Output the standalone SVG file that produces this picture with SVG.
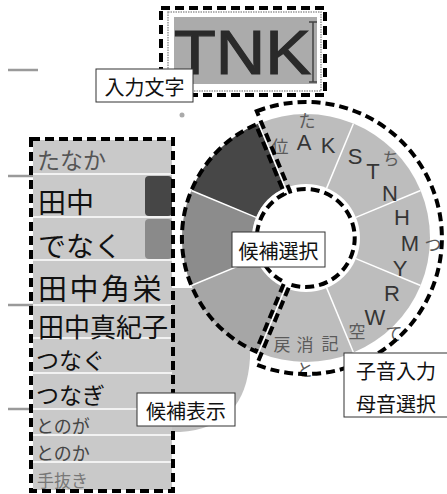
<svg xmlns="http://www.w3.org/2000/svg" width="447" height="494" viewBox="0 0 447 494">
<style>
.dash{fill:none;stroke:#000;stroke-width:4;stroke-dasharray:9 5}
.lbl{fill:#fff;stroke:#333;stroke-width:1}
.jp{font-family:"Noto Sans CJK JP","Noto Sans",sans-serif}
.lt{font-family:"Liberation Sans",Arial,sans-serif}
.lt20{font-family:"Liberation Sans",Arial,sans-serif;font-size:22px;fill:#353535;text-anchor:middle;dominant-baseline:central}
.kj{font-family:"Noto Sans CJK JP",sans-serif;font-size:17px;fill:#5a5a5a;text-anchor:middle;dominant-baseline:central}
.row{fill:#c9c9c9}
.sep{stroke:#fff;stroke-width:1.5}
.tick{stroke:#9a9a9a;stroke-width:2.5}
.lbltext{font-family:"Noto Sans CJK JP",sans-serif;font-size:20px;fill:#111;text-anchor:middle;dominant-baseline:central}
</style>
<rect width="447" height="494" fill="#fff"/>

<g id="ticks">
<line class="tick" x1="8" y1="70" x2="38" y2="70"/>
<line class="tick" x1="8" y1="176" x2="38" y2="176"/>
<line class="tick" x1="8" y1="305" x2="38" y2="305"/>
<line class="tick" x1="8" y1="409" x2="38" y2="409"/>
</g>

<g id="blob">
<path d="M120 288 L200 288 Q252 300 250 358 Q246 428 180 432 L120 432 Z" fill="#c2c2c2"/>
</g>

<g id="input-box">
<rect x="168" y="12" width="153" height="79" fill="#fff" stroke="#999" stroke-width="1.5" stroke-dasharray="1.5 1"/>
<rect x="174" y="17" width="143" height="67" fill="#ababab"/>
<text class="lt" x="174" y="74" font-size="63" fill="#2a2a2a" stroke="#2a2a2a" stroke-width="1.2" textLength="137" lengthAdjust="spacingAndGlyphs">TNK</text>
<path d="M309 22 H317 M313 22 V82 M309 82 H317" stroke="#444" stroke-width="1.5" fill="none"/>
<rect class="dash" x="161" y="8" width="164" height="87"/>
</g>

<g id="candidate-list">
<rect class="row" x="33" y="140" width="139" height="34" fill="#d0d0d0"/>
<rect class="row" x="33" y="174" width="139" height="43"/>
<rect class="row" x="33" y="217" width="139" height="43"/>
<rect class="row" x="33" y="260" width="139" height="45"/>
<rect class="row" x="33" y="305" width="139" height="33"/>
<rect class="row" x="33" y="338" width="139" height="35"/>
<rect class="row" x="33" y="373" width="139" height="36"/>
<rect class="row" x="33" y="409" width="139" height="26"/>
<rect class="row" x="33" y="435" width="139" height="27"/>
<rect class="row" x="33" y="462" width="139" height="28"/>
<line class="sep" x1="33" y1="174" x2="172" y2="174"/>
<line class="sep" x1="33" y1="217" x2="172" y2="217"/>
<line class="sep" x1="33" y1="260" x2="172" y2="260"/>
<line class="sep" x1="33" y1="305" x2="172" y2="305"/>
<line class="sep" x1="33" y1="338" x2="172" y2="338"/>
<line class="sep" x1="33" y1="373" x2="172" y2="373"/>
<line class="sep" x1="33" y1="409" x2="172" y2="409"/>
<line class="sep" x1="33" y1="435" x2="172" y2="435"/>
<line class="sep" x1="33" y1="462" x2="172" y2="462"/>
<rect x="145" y="176" width="27" height="40" rx="4" fill="#464646"/>
<rect x="145" y="219" width="27" height="40" rx="4" fill="#8a8a8a"/>
<g class="jp" dominant-baseline="central">
<text x="37" y="159" font-size="23" fill="#555">たなか</text>
<text x="38" y="201" font-size="28" fill="#111">田中</text>
<text x="38" y="245" font-size="28" fill="#111">でなく</text>
<text x="38" y="287" font-size="29" fill="#111" letter-spacing="2.5">田中角栄</text>
<text x="38" y="325" font-size="26" fill="#111">田中真紀子</text>
<text x="36" y="359" font-size="23" fill="#111">つなぐ</text>
<text x="36" y="394" font-size="23" fill="#111">つなぎ</text>
<text x="36" y="425" font-size="18" fill="#444">とのが</text>
<text x="36" y="452" font-size="18" fill="#444">とのか</text>
<text x="37" y="479" font-size="17" fill="#777">手抜き</text>
</g>
<rect class="dash" x="31" y="139" width="142" height="352"/>
</g>

<g id="wheel">
<circle cx="306" cy="238" r="124" fill="#bdbdbd"/>
<path d="M191.44 190.55 A124 124 0 0 1 258.55 123.44 L285.34 188.11 A54 54 0 0 0 256.11 217.34 Z" fill="#474747"/>
<path d="M191.44 285.45 A124 124 0 0 1 191.44 190.55 L256.11 217.34 A54 54 0 0 0 256.11 258.66 Z" fill="#8c8c8c"/>
<path d="M258.55 352.56 A124 124 0 0 1 191.44 285.45 L256.11 258.66 A54 54 0 0 0 285.34 287.89 Z" fill="#a6a6a6"/>
<circle cx="306" cy="238" r="54" fill="#fff"/>
<g stroke="#fff" stroke-width="1.5">
<line x1="355.89" y1="258.66" x2="420.56" y2="285.45"/>
<line x1="326.66" y1="287.89" x2="353.45" y2="352.56"/>
<line x1="285.34" y1="287.89" x2="258.55" y2="352.56"/>
<line x1="256.11" y1="258.66" x2="191.44" y2="285.45"/>
<line x1="256.11" y1="217.34" x2="191.44" y2="190.55"/>
<line x1="285.34" y1="188.11" x2="258.55" y2="123.44"/>
<line x1="326.66" y1="188.11" x2="353.45" y2="123.44"/>
<line x1="355.89" y1="217.34" x2="420.56" y2="190.55"/>
</g>
<text class="kj" x="307" y="119">た</text>
<text class="kj" x="280" y="145">位</text>
<text class="lt20" x="304" y="142">A</text>
<text class="lt20" x="328" y="145">K</text>
<text class="lt20" x="355" y="156">S</text>
<text class="kj" x="391" y="157">ち</text>
<text class="lt20" x="373" y="171">T</text>
<text class="lt20" x="390" y="193">N</text>
<text class="lt20" x="402" y="217">H</text>
<text class="lt20" x="410" y="243">M</text>
<text class="kj" x="433" y="243">つ</text>
<text class="lt20" x="400" y="268">Y</text>
<text class="lt20" x="392" y="293">R</text>
<text class="lt20" x="375" y="317">W</text>
<text class="kj" x="394" y="332">て</text>
<text class="kj" x="357" y="330">空</text>
<text class="kj" x="330" y="342">記</text>
<text class="kj" x="305" y="343">消</text>
<text class="kj" x="282" y="343">戻</text>
<text class="kj" x="305" y="368" font-size="15">と</text>
</g>

<g id="connectors">
<path class="dash" d="M255.78 124.59 A124 124 0 0 0 255.78 351.41 L284.48 282.12 A49 49 0 0 1 284.48 193.88 Z"/>
<path class="dash" d="M256.72 111.2 A136 136 0 1 1 256.72 364.8 L290.02 284.42 A49 49 0 1 0 290.02 191.58 Z"/>
<circle cx="182" cy="115" r="2.5" fill="#aaa"/>
</g>

<g id="label-input">
<rect class="lbl" x="96" y="69" width="97" height="33"/>
<text class="lbltext" x="144.5" y="86">入力文字</text>
</g>
<g id="label-select">
<rect class="lbl" x="232" y="232" width="93" height="35"/>
<text class="lbltext" x="278.5" y="250">候補選択</text>
</g>
<g id="label-display">
<rect class="lbl" x="137" y="393" width="98" height="33"/>
<text class="lbltext" x="186" y="410">候補表示</text>
</g>
<g id="label-consonant">
<rect class="lbl" x="344" y="353" width="110" height="64"/>
<text class="lbltext" x="396" y="370">子音入力</text>
<text class="lbltext" x="396" y="403">母音選択</text>
</g>
</svg>
